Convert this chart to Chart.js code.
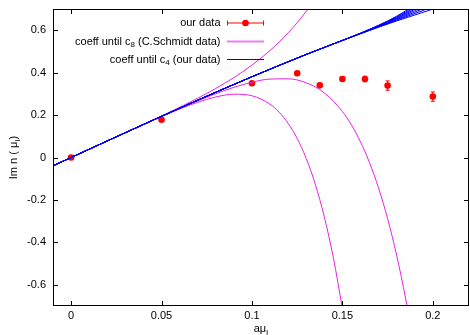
<!DOCTYPE html>
<html>
<head>
<meta charset="utf-8">
<script src="https://cdn.jsdelivr.net/npm/chart.js@4.4.1/dist/chart.umd.min.js"></script>
<style>
  html, body { margin: 0; padding: 0; background: #fff; }
  #wrap { width: 470px; height: 335px; }
</style>
</head>
<body>
<div id="wrap"><canvas id="chart" width="470" height="335"></canvas></div>
<script>
// measured points (our data)
const dataX = [0, 0.05, 0.1, 0.125, 0.1375, 0.15, 0.1625, 0.175, 0.2];
const dataY = [0, 0.178, 0.35, 0.397, 0.34, 0.37, 0.37, 0.339, 0.287];
const dataErr = [0.004, 0.005, 0.008, 0.008, 0.01, 0.01, 0.013, 0.022, 0.022];

// coeff until c4 (our data) - bundle of lines
const c4X = [-0.01, 0, 0.03, 0.05, 0.07, 0.1, 0.13, 0.15, 0.16, 0.17, 0.18, 0.2];
const c4Lines = [
  [-0.0391, 0, 0.117, 0.1942, 0.2702, 0.3807, 0.4857, 0.5517, 0.5834, 0.6141, 0.6437, 0.6996],
  [-0.0391, 0, 0.117, 0.1942, 0.2702, 0.3807, 0.4857, 0.5517, 0.5838, 0.6154, 0.6469, 0.7103],
  [-0.0391, 0, 0.117, 0.1942, 0.2702, 0.3807, 0.4857, 0.5517, 0.5842, 0.6168, 0.6500, 0.7211],
  [-0.0391, 0, 0.117, 0.1942, 0.2702, 0.3807, 0.4857, 0.5517, 0.5846, 0.6181, 0.6532, 0.7318],
  [-0.0391, 0, 0.117, 0.1942, 0.2702, 0.3807, 0.4857, 0.5517, 0.5850, 0.6195, 0.6564, 0.7424],
  [-0.0391, 0, 0.117, 0.1942, 0.2702, 0.3807, 0.4857, 0.5517, 0.5854, 0.6208, 0.6596, 0.7532],
  [-0.0391, 0, 0.117, 0.1942, 0.2702, 0.3807, 0.4857, 0.5517, 0.5858, 0.6222, 0.6627, 0.7639],
  [-0.0391, 0, 0.117, 0.1942, 0.2702, 0.3807, 0.4857, 0.5517, 0.5862, 0.6235, 0.6659, 0.7746]
];

// coeff until c8 (C.Schmidt data) - three curves
const c8UpperX = [-0.01, 0, 0.02, 0.04, 0.05, 0.06, 0.07, 0.08, 0.09, 0.1, 0.11, 0.12, 0.13, 0.135];
const c8UpperY = [-0.0391, 0, 0.0781, 0.1563, 0.1959, 0.2367, 0.2794, 0.3254, 0.3767, 0.4354, 0.5044, 0.5874, 0.6887, 0.7476];
const c8MidX = [-0.01, 0, 0.02, 0.04, 0.05, 0.06, 0.07, 0.08, 0.09, 0.1, 0.11, 0.12, 0.13, 0.14, 0.15, 0.155, 0.16, 0.165, 0.17, 0.175, 0.18, 0.185, 0.19];
const c8MidY = [-0.0391, 0, 0.0781, 0.1556, 0.1937, 0.2311, 0.2671, 0.3007, 0.3307, 0.3548, 0.3697, 0.3709, 0.3521, 0.3046, 0.2168, 0.1533, 0.0738, -0.0243, -0.1439, -0.2884, -0.4612, -0.6663, -0.9085];
const c8LowX = [-0.01, 0, 0.02, 0.04, 0.05, 0.06, 0.07, 0.08, 0.09, 0.1, 0.11, 0.115, 0.12, 0.125, 0.13, 0.135, 0.14, 0.145, 0.15];
const c8LowY = [-0.0391, 0, 0.0781, 0.1553, 0.1928, 0.2285, 0.2604, 0.2853, 0.2983, 0.2910, 0.2512, 0.2138, 0.1611, 0.0897, -0.0043, -0.1257, -0.2796, -0.4723, -0.7110];

// axes
const xTicks = [0, 0.05, 0.1, 0.15, 0.2];
const xTickLabels = ["0", "0.05", "0.1", "0.15", "0.2"];
const yTicks = [-0.6, -0.4, -0.2, 0, 0.2, 0.4, 0.6];
const yTickLabels = ["-0.6", "-0.4", "-0.2", "0", "0.2", "0.4", "0.6"];

const FONT = '"Liberation Sans", Arial, Helvetica, sans-serif';
const RED = "#ff0000";
const MAGENTA = "#e820e8";
const BLUE = "#0000ff";

function pts(xs, ys) {
  return xs.map((x, i) => ({ x: x, y: ys[i] }));
}

// text with subscripts: parts = [[text, isSub], ...]
function textWidth(ctx, parts) {
  let w = 0;
  parts.forEach(p => {
    ctx.font = (p[1] ? "8px " : "11px ") + FONT;
    w += ctx.measureText(p[0]).width;
  });
  return w;
}
function drawParts(ctx, parts, x, y) {
  parts.forEach(p => {
    ctx.font = (p[1] ? "8px " : "11px ") + FONT;
    ctx.fillText(p[0], x, p[1] ? y + 3 : y);
    x += ctx.measureText(p[0]).width;
  });
}

var datasets = [];
c4Lines.forEach(function (ys, i) {
  datasets.push({
    label: "c4_" + i,
    data: pts(c4X, ys),
    showLine: true,
    borderColor: BLUE,
    borderWidth: 1,
    pointRadius: 0,
    cubicInterpolationMode: "monotone",
    order: 0,
  });
});
[[c8UpperX, c8UpperY], [c8MidX, c8MidY], [c8LowX, c8LowY]].forEach(function (c, i) {
  datasets.push({
    label: "c8_" + i,
    data: pts(c[0], c[1]),
    showLine: true,
    borderColor: MAGENTA,
    borderWidth: 1,
    pointRadius: 0,
    cubicInterpolationMode: "monotone",
    order: 1,
  });
});
datasets.push({
  label: "our data",
  data: pts(dataX, dataY),
  showLine: false,
  backgroundColor: RED,
  borderColor: RED,
  borderWidth: 0,
  pointRadius: 3.3,
  order: 2,
});
const DATA_INDEX = datasets.length - 1;

const framePlugin = {
  id: "frame",
  afterDatasetDraw(chart, args) {
    if (args.index !== DATA_INDEX) return;
    // error bars
    const ctx = chart.ctx, xs = chart.scales.x, ys = chart.scales.y;
    ctx.save();
    ctx.strokeStyle = RED;
    ctx.lineWidth = 1;
    dataX.forEach((x, i) => {
      const px = xs.getPixelForValue(x);
      const top = ys.getPixelForValue(dataY[i] + dataErr[i]);
      const bot = ys.getPixelForValue(dataY[i] - dataErr[i]);
      ctx.beginPath();
      ctx.moveTo(px, top); ctx.lineTo(px, bot);
      ctx.moveTo(px - 2, top); ctx.lineTo(px + 2, top);
      ctx.moveTo(px - 2, bot); ctx.lineTo(px + 2, bot);
      ctx.stroke();
    });
    ctx.restore();
  },
  afterDraw(chart) {
    const ctx = chart.ctx, a = chart.chartArea;
    const xs = chart.scales.x, ys = chart.scales.y;
    ctx.save();
    // box
    ctx.strokeStyle = "#000";
    ctx.lineWidth = 1;
    ctx.strokeRect(Math.round(a.left) + 0.5, Math.round(a.top) + 0.5,
      Math.round(a.right - a.left) - 1, Math.round(a.bottom - a.top) - 1);
    // inward ticks, mirrored
    ctx.beginPath();
    xTicks.forEach(v => {
      const px = Math.round(xs.getPixelForValue(v)) + 0.5;
      ctx.moveTo(px, a.bottom); ctx.lineTo(px, a.bottom - 5);
      ctx.moveTo(px, a.top); ctx.lineTo(px, a.top + 5);
    });
    yTicks.forEach(v => {
      const py = Math.round(ys.getPixelForValue(v)) + 0.5;
      ctx.moveTo(a.left, py); ctx.lineTo(a.left + 5, py);
      ctx.moveTo(a.right, py); ctx.lineTo(a.right - 5, py);
    });
    ctx.stroke();

    // legend
    ctx.fillStyle = "#000";
    ctx.textBaseline = "middle";
    ctx.textAlign = "left";
    const right = 220.5, s0 = 227, s1 = 264;
    const rows = [
      [["our data", false]],
      [["coeff until c", false], ["8", true], [" (C.Schmidt data)", false]],
      [["coeff until c", false], ["4", true], [" (our data)", false]],
    ];
    const rowY = [23, 41.5, 59.5];
    rows.forEach((parts, i) => {
      drawParts(ctx, parts, right - textWidth(ctx, parts), rowY[i]);
    });
    // sample: error bar + point
    ctx.strokeStyle = RED;
    ctx.beginPath();
    ctx.moveTo(s0, rowY[0]); ctx.lineTo(s1, rowY[0]);
    ctx.moveTo(s0 + 0.5, rowY[0] - 2.5); ctx.lineTo(s0 + 0.5, rowY[0] + 2.5);
    ctx.moveTo(s1 - 0.5, rowY[0] - 2.5); ctx.lineTo(s1 - 0.5, rowY[0] + 2.5);
    ctx.stroke();
    ctx.fillStyle = RED;
    ctx.beginPath();
    ctx.arc((s0 + s1) / 2, rowY[0], 3.3, 0, Math.PI * 2);
    ctx.fill();
    ctx.strokeStyle = "#f080f0";
    ctx.lineWidth = 2;
    ctx.beginPath();
    ctx.moveTo(s0, rowY[1]); ctx.lineTo(s1, rowY[1]);
    ctx.stroke();
    ctx.strokeStyle = BLUE;
    ctx.lineWidth = 1;
    ctx.beginPath();
    ctx.moveTo(s0, rowY[2]); ctx.lineTo(s1, rowY[2]);
    ctx.stroke();

    // axis titles
    ctx.fillStyle = "#000";
    ctx.textBaseline = "alphabetic";
    const xt = [["a\u03bc", false], ["I", true]];
    drawParts(ctx, xt, (a.left + a.right) / 2 - textWidth(ctx, xt) / 2, 332);
    const yt = [["Im n ( \u03bc", false], ["I", true], [")", false]];
    ctx.translate(17, (a.top + a.bottom) / 2);
    ctx.rotate(-Math.PI / 2);
    drawParts(ctx, yt, -textWidth(ctx, yt) / 2, 0);
    ctx.restore();
  },
};

Chart.defaults.font.family = FONT;
Chart.defaults.font.size = 11;
Chart.defaults.color = "#000";

function noPad(s) {
  s.paddingTop = 0; s.paddingBottom = 0;
  s.paddingLeft = 0; s.paddingRight = 0;
}

new Chart(document.getElementById("chart").getContext("2d"), {
  type: "scatter",
  data: { datasets: datasets },
  options: {
    responsive: false,
    animation: false,
    devicePixelRatio: 1,
    layout: { autoPadding: false, padding: { top: 9, right: 1, left: 0, bottom: 0 } },
    plugins: { legend: { display: false }, tooltip: { enabled: false } },
    scales: {
      x: {
        type: "linear",
        min: -0.01,
        max: 0.22,
        grid: { display: false, drawTicks: false },
        border: { display: false },
        ticks: {
          padding: 3,
          autoSkip: false,
          maxRotation: 0,
          callback: (v, i) => xTickLabels[i],
        },
        afterBuildTicks: s => { s.ticks = xTicks.map(v => ({ value: v })); },
        afterFit: s => { s.height = 29; noPad(s); },
      },
      y: {
        type: "linear",
        min: -0.7,
        max: 0.7,
        grid: { display: false, drawTicks: false },
        border: { display: false },
        ticks: {
          padding: 7,
          autoSkip: false,
          callback: (v, i) => yTickLabels[i],
        },
        afterBuildTicks: s => { s.ticks = yTicks.map(v => ({ value: v })); },
        afterFit: s => { s.width = 53; noPad(s); },
      },
    },
  },
  plugins: [framePlugin],
});
</script>
</body>
</html>
